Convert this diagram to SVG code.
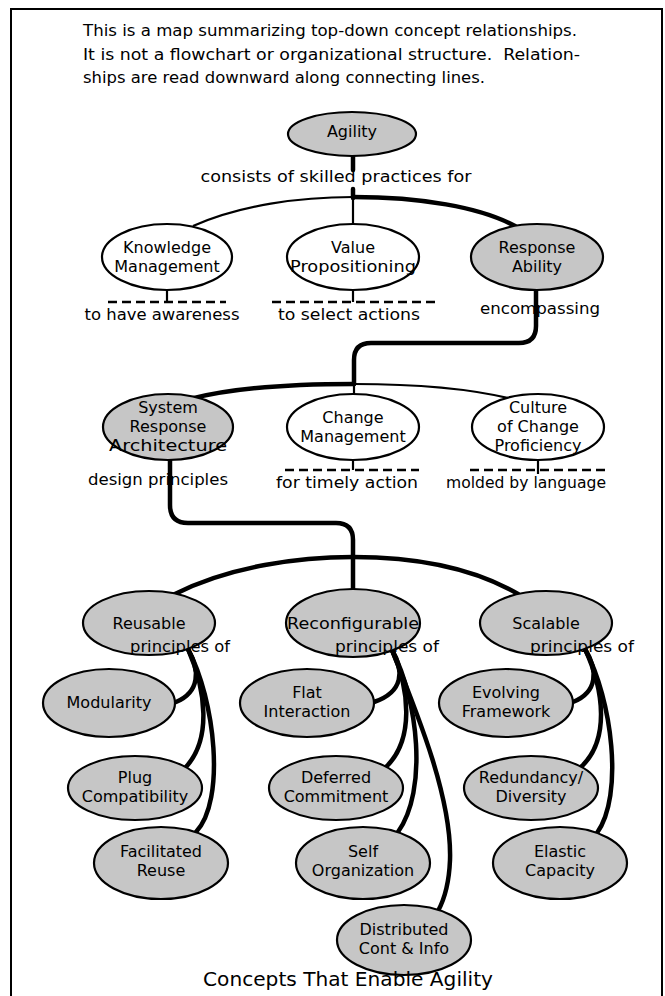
<svg xmlns="http://www.w3.org/2000/svg" width="665" height="996" viewBox="0 0 665 996">
<style>
text{font-family:"DejaVu Sans","Noto Sans",sans-serif;fill:#000}
.hdr{font-size:16px}
.lbl{font-size:16px;text-anchor:middle}
.nt{font-size:16px;text-anchor:middle}
.ttl{font-size:20px;text-anchor:middle}
.w{fill:#fff;stroke:#000;stroke-width:2.2}
.g{fill:#c6c6c6;stroke:#000;stroke-width:2.2}
.thin{fill:none;stroke:#000;stroke-width:2.2}
.thick{fill:none;stroke:#000;stroke-width:4.5;stroke-linecap:round}
.dash{fill:none;stroke:#000;stroke-width:2.5;stroke-dasharray:9 5}
</style>
<rect x="11" y="9" width="651" height="995" fill="#fff" stroke="#000" stroke-width="2"/>
<g id="intro">
<text class="hdr" x="83" y="36" textLength="494" lengthAdjust="spacingAndGlyphs">This is a map summarizing top-down concept relationships.</text>
<text class="hdr" x="83" y="60" textLength="497" lengthAdjust="spacingAndGlyphs">It is not a flowchart or organizational structure.&#160; Relation-</text>
<text class="hdr" x="83" y="83" textLength="402" lengthAdjust="spacingAndGlyphs">ships are read downward along connecting lines.</text>
</g>
<g id="connectors">
<path class="thick" d="M353,156 L353,170"/>
<path class="thick" d="M353,189 L353,198"/>
<path class="thin" d="M353,198 L353,224"/>
<path class="thin" d="M193,226 C240,205 300,197 353,197"/>
<path class="thick" d="M353,197 C420,197 480,207 515,226"/>
<path class="thin" d="M167,290 L167,302"/>
<path class="thin" d="M353,290 L353,302"/>
<path class="dash" d="M108,302 L226,302"/>
<path class="dash" d="M272,302 L438,302"/>
<path class="thick" d="M536,290 L536,326 Q536,343 519,343 L371,343 Q354,343 354,360 L354,384"/>
<path class="thin" d="M354,384 L354,395"/>
<path class="thick" d="M190,399 C235,387 295,384 354,384"/>
<path class="thin" d="M354,384 C420,384 478,390 516,400"/>
<path class="thin" d="M353,460 L353,470"/>
<path class="thin" d="M538,460 L538,474"/>
<path class="dash" d="M285,470 L419,470"/>
<path class="dash" d="M470,470 L606,470"/>
<path class="thick" d="M170,460 L170,505 Q170,523 188,523 L336,523 Q353,523 353,540 L353,590"/>
<path class="thick" d="M175,594 C230,566 300,557 353,557 C410,557 470,566 518,594"/>
<path class="thick" d="M188,649 C200,670 200,692 176,702"/>
<path class="thick" d="M188,649 C206,690 212,740 185,768"/>
<path class="thick" d="M188,649 C215,700 226,800 196,832"/>
<path class="thick" d="M392,650 C404,670 404,692 374,702"/>
<path class="thick" d="M392,650 C410,690 414,740 386,767"/>
<path class="thick" d="M392,650 C418,700 428,790 398,832"/>
<path class="thick" d="M392,650 C420,720 452,800 450,860 C449,885 444,900 438,911"/>
<path class="thick" d="M585,649 C598,670 598,692 573,702"/>
<path class="thick" d="M585,649 C604,690 610,740 581,767"/>
<path class="thick" d="M585,649 C612,700 624,795 597,833"/>
</g>
<g id="n-agility"><ellipse class="g" cx="352" cy="134" rx="64" ry="22"/><text class="nt" x="352" y="137">Agility</text></g>
<text class="lbl" x="336" y="182" textLength="271" lengthAdjust="spacingAndGlyphs">consists of skilled practices for</text>
<g id="n-km"><ellipse class="w" cx="167" cy="257" rx="65" ry="33"/><text class="nt" x="167" y="253">Knowledge</text><text class="nt" x="167" y="272">Management</text></g>
<g id="n-vp"><ellipse class="w" cx="353" cy="257" rx="66" ry="33"/><text class="nt" x="353" y="253">Value</text><text class="nt" x="353" y="272" textLength="126" lengthAdjust="spacingAndGlyphs">Propositioning</text></g>
<g id="n-ra"><ellipse class="g" cx="537" cy="257" rx="66" ry="33"/><text class="nt" x="537" y="253">Response</text><text class="nt" x="537" y="272">Ability</text></g>
<text class="lbl" x="162" y="320" textLength="155" lengthAdjust="spacingAndGlyphs">to have awareness</text>
<text class="lbl" x="349" y="320" textLength="142" lengthAdjust="spacingAndGlyphs">to select actions</text>
<text class="lbl" x="540" y="314" textLength="120" lengthAdjust="spacingAndGlyphs">encompassing</text>
<g id="n-sra"><ellipse class="g" cx="168" cy="427" rx="65" ry="33"/><text class="nt" x="168" y="413">System</text><text class="nt" x="168" y="432">Response</text><text class="nt" x="168" y="451" textLength="118" lengthAdjust="spacingAndGlyphs">Architecture</text></g>
<g id="n-cm"><ellipse class="w" cx="353" cy="427" rx="66" ry="33"/><text class="nt" x="353" y="423">Change</text><text class="nt" x="353" y="442">Management</text></g>
<g id="n-ccp"><ellipse class="w" cx="538" cy="427" rx="66" ry="33"/><text class="nt" x="538" y="413">Culture</text><text class="nt" x="538" y="432">of Change</text><text class="nt" x="538" y="451">Proficiency</text></g>
<text class="lbl" x="158" y="485" textLength="140" lengthAdjust="spacingAndGlyphs">design principles</text>
<text class="lbl" x="347" y="488" textLength="142" lengthAdjust="spacingAndGlyphs">for timely action</text>
<text class="lbl" x="526" y="488" textLength="160" lengthAdjust="spacingAndGlyphs">molded by language</text>
<g id="n-reusable"><ellipse class="g" cx="149" cy="623" rx="66" ry="32"/><text class="nt" x="149" y="629">Reusable</text></g>
<g id="n-reconfig"><ellipse class="g" cx="353" cy="623" rx="67" ry="34"/><text class="nt" x="353" y="629" textLength="132" lengthAdjust="spacingAndGlyphs">Reconfigurable</text></g>
<g id="n-scalable"><ellipse class="g" cx="546" cy="623" rx="66" ry="32"/><text class="nt" x="546" y="629">Scalable</text></g>
<text class="lbl" x="180" y="652" textLength="100" lengthAdjust="spacingAndGlyphs">principles of</text>
<text class="lbl" x="387" y="652" textLength="104" lengthAdjust="spacingAndGlyphs">principles of</text>
<text class="lbl" x="582" y="652" textLength="104" lengthAdjust="spacingAndGlyphs">principles of</text>
<g id="n-modularity"><ellipse class="g" cx="109" cy="703" rx="66" ry="34"/><text class="nt" x="109" y="708">Modularity</text></g>
<g id="n-plug"><ellipse class="g" cx="135" cy="788" rx="67" ry="32"/><text class="nt" x="135" y="783">Plug</text><text class="nt" x="135" y="802">Compatibility</text></g>
<g id="n-facil"><ellipse class="g" cx="161" cy="863" rx="67" ry="36"/><text class="nt" x="161" y="857">Facilitated</text><text class="nt" x="161" y="876">Reuse</text></g>
<g id="n-flat"><ellipse class="g" cx="307" cy="703" rx="67" ry="34"/><text class="nt" x="307" y="698">Flat</text><text class="nt" x="307" y="717">Interaction</text></g>
<g id="n-deferred"><ellipse class="g" cx="336" cy="788" rx="67" ry="32"/><text class="nt" x="336" y="783">Deferred</text><text class="nt" x="336" y="802">Commitment</text></g>
<g id="n-self"><ellipse class="g" cx="363" cy="863" rx="67" ry="36"/><text class="nt" x="363" y="857">Self</text><text class="nt" x="363" y="876">Organization</text></g>
<g id="n-dist"><ellipse class="g" cx="404" cy="940" rx="67" ry="35"/><text class="nt" x="404" y="935">Distributed</text><text class="nt" x="404" y="954">Cont &amp; Info</text></g>
<g id="n-evolving"><ellipse class="g" cx="506" cy="703" rx="67" ry="34"/><text class="nt" x="506" y="698">Evolving</text><text class="nt" x="506" y="717">Framework</text></g>
<g id="n-redund"><ellipse class="g" cx="531" cy="788" rx="67" ry="32"/><text class="nt" x="531" y="783">Redundancy/</text><text class="nt" x="531" y="802">Diversity</text></g>
<g id="n-elastic"><ellipse class="g" cx="560" cy="863" rx="67" ry="36"/><text class="nt" x="560" y="857">Elastic</text><text class="nt" x="560" y="876">Capacity</text></g>
<text class="ttl" x="348" y="986" textLength="290" lengthAdjust="spacingAndGlyphs">Concepts That Enable Agility</text>
</svg>
